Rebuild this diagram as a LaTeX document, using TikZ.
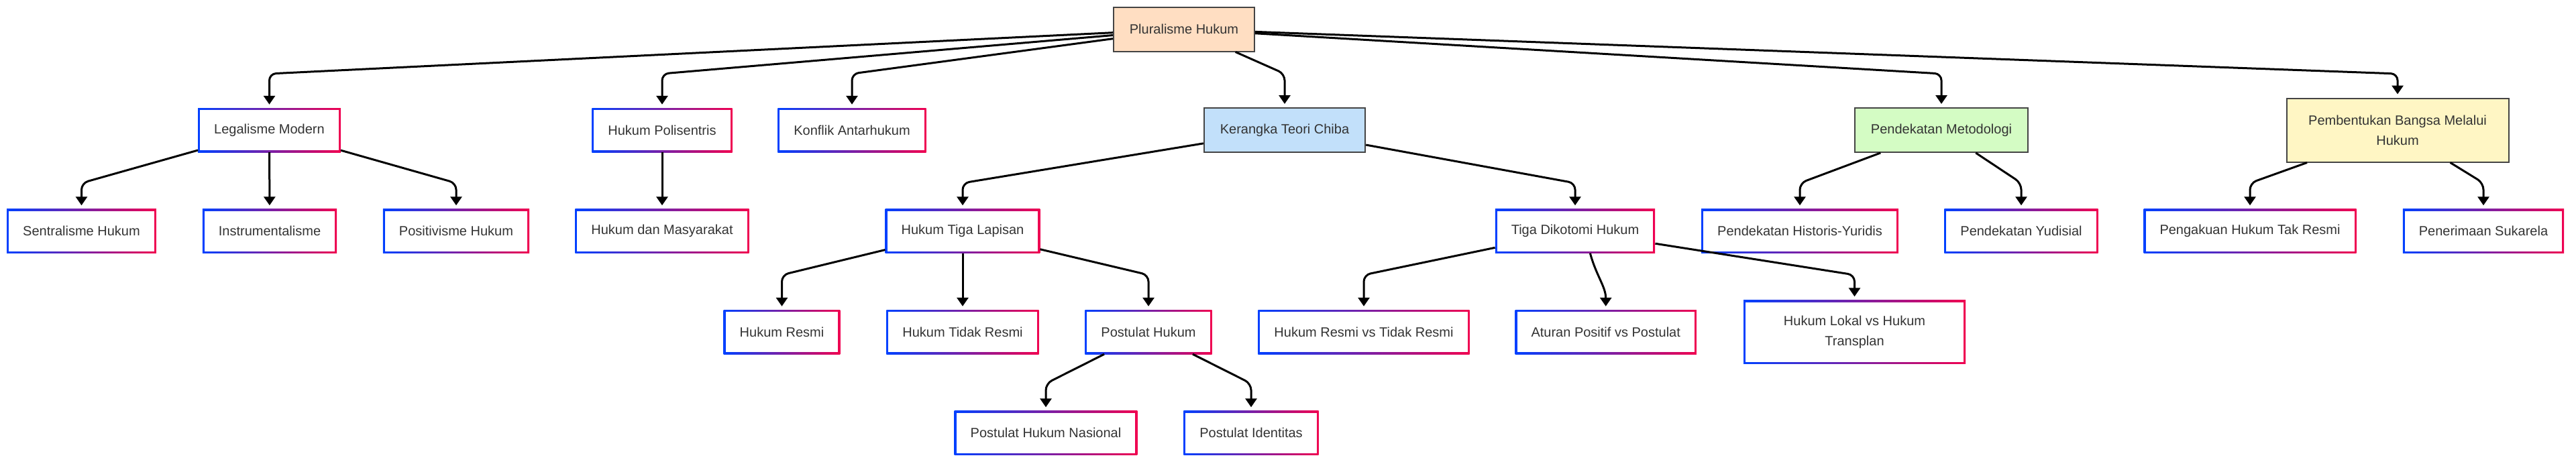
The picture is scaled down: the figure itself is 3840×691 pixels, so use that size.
\documentclass[tikz,border=0pt]{standalone}
\usepackage{fontspec}
\setmainfont{Liberation Sans}
\usetikzlibrary{arrows.meta}
\definecolor{gblue}{HTML}{0040FF}
\definecolor{gred}{HTML}{F00050}
\definecolor{txt}{HTML}{333333}
\definecolor{rim}{HTML}{444444}
\definecolor{peach}{HTML}{FFDEC2}
\definecolor{sky}{HTML}{C2E0FA}
\definecolor{mint}{HTML}{D4FCC4}
\definecolor{cream}{HTML}{FFF6C4}
\begin{document}
\begin{tikzpicture}[x=1pt,y=-1pt,
  box/.style={rectangle, inner xsep=24pt, inner ysep=0pt, minimum height=66pt,
    text=txt, font=\fontsize{20pt}{30pt}\selectfont, align=center},
  gbox/.style={box, path picture={
    \shade[left color=gblue, right color=gred] (path picture bounding box.south west) rectangle (path picture bounding box.north east);
    \fill[white] ([shift={(3pt,3pt)}]path picture bounding box.south west) rectangle ([shift={(-3pt,-3pt)}]path picture bounding box.north east);}},
  main/.style={box, draw=rim, line width=2pt, fill=#1},
  wide/.style={minimum width=331pt, minimum height=95pt},
  arr/.style={-{Triangle[width=17pt,length=13pt]}, line width=3pt, rounded corners=10pt, shorten >=5pt}]
\useasboundingbox (0,0) rectangle (3840,691);
\coordinate (b0) at (0,110);
\coordinate (b1) at (0,273);
\coordinate (b2) at (0,410);
\coordinate (b3) at (0,572);
\node[main=peach] (ph) at (1765,43.5) {Pluralisme Hukum};
\node[gbox] (lm) at (401.5,194) {Legalisme Modern};
\node[gbox] (hp) at (987,194) {Hukum Polisentris};
\node[gbox] (ka) at (1270,194) {Konflik Antarhukum};
\node[main=sky] (kc) at (1915,194) {Kerangka Teori Chiba};
\node[main=mint] (pm) at (2894,194) {Pendekatan Metodologi};
\node[main=cream, wide] (pb) at (3574,194) {Pembentukan Bangsa Melalui\\Hukum};
\node[gbox] (sh) at (121.5,344.5) {Sentralisme Hukum};
\node[gbox] (ins) at (402,344.5) {Instrumentalisme};
\node[gbox] (pv) at (680,344.5) {Positivisme Hukum};
\node[gbox] (hm) at (987,344.5) {Hukum dan Masyarakat};
\node[gbox] (tl) at (1435,344.5) {Hukum Tiga Lapisan};
\node[gbox] (td) at (2348,344.5) {Tiga Dikotomi Hukum};
\node[gbox] (hy) at (2683,344.5) {Pendekatan Historis-Yuridis};
\node[gbox] (yd) at (3013,344.5) {Pendekatan Yudisial};
\node[gbox] (pk) at (3354,344.5) {Pengakuan Hukum Tak Resmi};
\node[gbox] (ps) at (3702,344.5) {Penerimaan Sukarela};
\node[gbox] (hr) at (1165.5,495) {Hukum Resmi};
\node[gbox] (ht) at (1435,495) {Hukum Tidak Resmi};
\node[gbox] (pu) at (1712,495) {Postulat Hukum};
\node[gbox] (rv) at (2033,495) {Hukum Resmi vs Tidak Resmi};
\node[gbox] (ap) at (2393.7,495) {Aturan Positif vs Postulat};
\node[gbox, wide] (lt) at (2764.5,495) {Hukum Lokal vs Hukum\\Transplan};
\node[gbox] (pn) at (1559,645.5) {Postulat Hukum Nasional};
\node[gbox] (pi) at (1865,645.5) {Postulat Identitas};
\draw[arr] (ph) -- (lm |- b0) -- (lm);
\draw[arr] (ph) -- (hp |- b0) -- (hp);
\draw[arr] (ph) -- (ka |- b0) -- (ka);
\draw[arr] (ph) -- (kc |- b0) -- (kc);
\draw[arr] (ph) -- (pm |- b0) -- (pm);
\draw[arr] (ph) -- (pb |- b0) -- (pb);
\draw[arr] (lm) -- (sh |- b1) -- (sh);
\draw[arr] (lm) -- (ins);
\draw[arr] (lm) -- (pv |- b1) -- (pv);
\draw[arr] (hp) -- (hm);
\draw[arr] (kc) -- (tl |- b1) -- (tl);
\draw[arr] (kc) -- (td |- b1) -- (td);
\draw[arr] (pm) -- (hy |- b1) -- (hy);
\draw[arr] (pm) -- (yd |- b1) -- (yd);
\draw[arr] (pb) -- (pk |- b1) -- (pk);
\draw[arr] (pb) -- (ps |- b1) -- (ps);
\draw[arr] (tl) -- (hr |- b2) -- (hr);
\draw[arr] (tl) -- (ht);
\draw[arr] (tl) -- (pu |- b2) -- (pu);
\draw[arr] (td) -- (rv |- b2) -- (rv);
\draw[arr] (td.-56) to[out=-75, in=90] (ap.north);
\draw[arr] (td) -- (lt |- b2) -- (lt);
\draw[arr] (pu) -- (pn |- b3) -- (pn);
\draw[arr] (pu) -- (pi |- b3) -- (pi);
\end{tikzpicture}
\end{document}
